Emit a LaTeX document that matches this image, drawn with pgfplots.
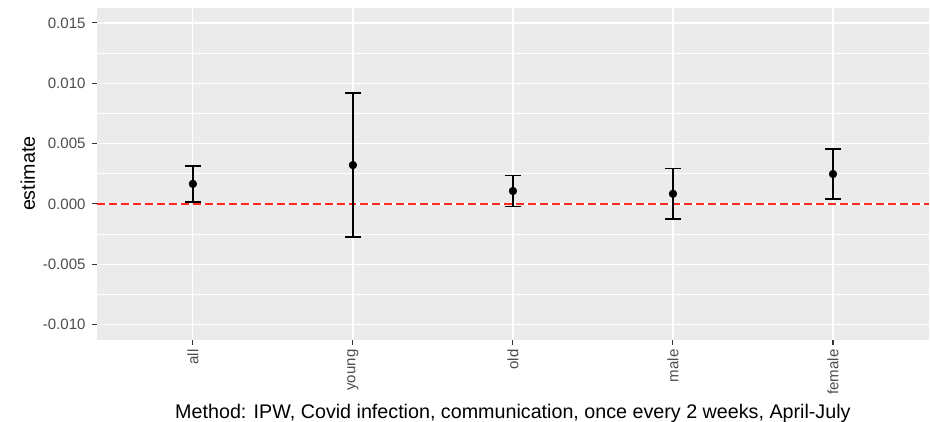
\documentclass[border=0pt]{standalone}
\usepackage{fontspec}
\setmainfont{Liberation Sans}
\usepackage{pgfplots}
\pgfplotsset{compat=1.18}
\usepackage{pgfplotstable}
\definecolor{panelbg}{HTML}{EBEBEB}
\definecolor{ticktext}{HTML}{4D4D4D}
\definecolor{tickcol}{HTML}{333333}
\definecolor{zeroline}{HTML}{FF2A1F}

\pgfplotstableread{
x y err
1 0.00166 0.00149
2 0.00322 0.00595
3 0.00107 0.00128
4 0.00084 0.00211
5 0.00248 0.00205
}\estimates

\begin{document}
\begin{tikzpicture}
\begin{axis}[
    scale only axis,
    width=625pt, height=249pt,
    xmin=0.4, xmax=5.6,
    ymin=-0.01124, ymax=0.01624,
    axis background/.style={fill=panelbg},
    axis line style={draw=none},
    xtick={1,2,3,4,5},
    xticklabels={all,young,old,male,female},
    ytick={-0.010,-0.005,0,0.005,0.010,0.015},
    yticklabels={-0.010,-0.005,0.000,0.005,0.010,0.015},
    minor ytick={-0.0075,-0.0025,0.0025,0.0075,0.0125},
    grid=both,
    major grid style={white, line width=0.9pt},
    minor grid style={white, line width=0.45pt},
    tick align=outside,
    tick pos=left,
    major tick length=4pt,
    minor tick length=0pt,
    tick style={tickcol, line width=0.8pt},
    ticklabel style={font=\fontsize{11.3}{13}\selectfont, text=ticktext},
    xticklabel style={rotate=90, anchor=east},
    yticklabel style={xshift=-1pt},
    xlabel={Method: IPW, Covid infection, communication, once every 2 weeks, April-July},
    ylabel={estimate},
    label style={font=\fontsize{14.8}{17}\selectfont},
    ylabel style={yshift=-1pt},
    clip=false,
]
\addplot[draw=zeroline, line width=0.9pt, dash pattern=on 6pt off 3pt] coordinates {(0.4,0) (5.6,0)};
\addplot[only marks, mark=*, mark size=2.9pt, black,
    error bars/.cd, y dir=both, y explicit, error mark=|,
    error bar style={line width=1.2pt, black},
    error mark options={mark size=5.8pt, line width=1.2pt, black}]
    table[x=x, y=y, y error=err] {\estimates};
\end{axis}
\pgfresetboundingbox
\path (current axis.south west) ++(-72.75pt,-61.5pt) coordinate (bl);
\path (current axis.north east) ++(0.75pt,6pt) coordinate (tr);
\path[use as bounding box] (bl) rectangle (tr);
\end{tikzpicture}
\end{document}
